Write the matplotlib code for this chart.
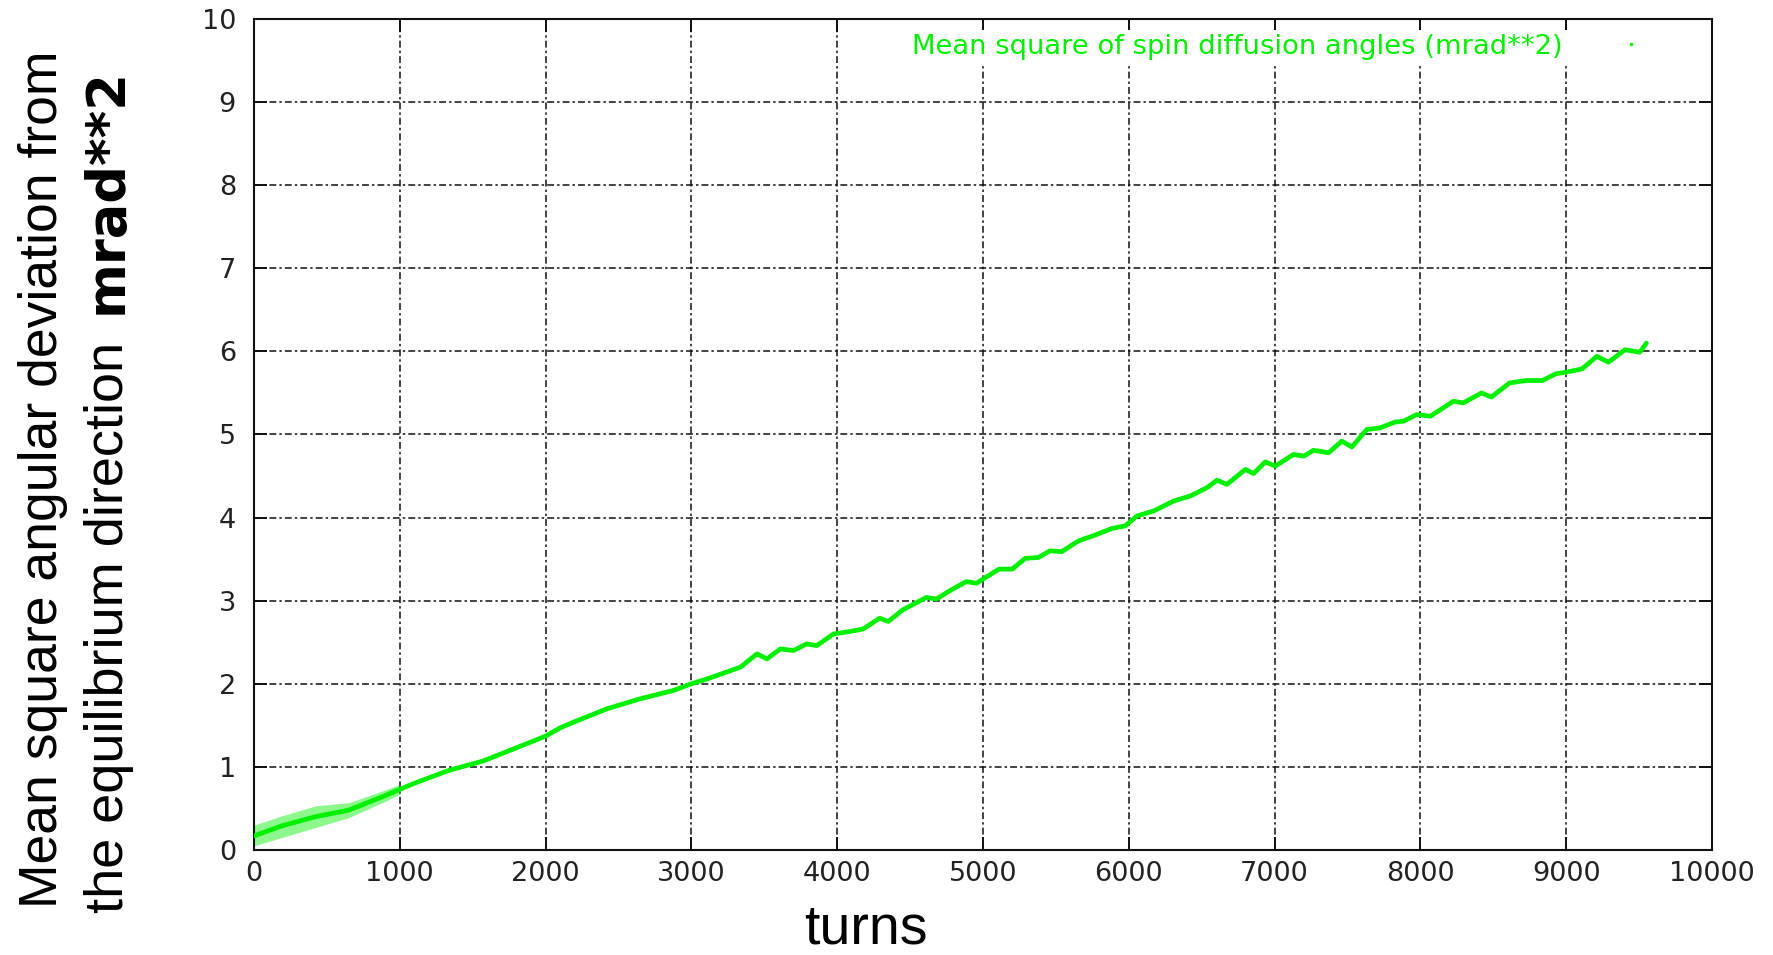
import matplotlib
matplotlib.use("Agg")
import matplotlib.pyplot as plt
from matplotlib.lines import Line2D

# ---- data ----
turns = [0, 190, 420, 650, 880, 1000, 1110, 1340, 1570, 1800, 2000, 2100, 2194,
         2422, 2650, 2877, 3000, 3110, 3336, 3450, 3518, 3610, 3700, 3790, 3860,
         3975, 4090, 4178, 4292, 4350, 4450, 4612, 4680, 4772, 4886, 4955, 5000,
         5110, 5200, 5290, 5380, 5460, 5540, 5655, 5770, 5885, 5975, 6057, 6171,
         6308, 6422, 6536, 6605, 6673, 6800, 6856, 6936, 7005, 7130, 7200, 7267,
         7370, 7461, 7530, 7632, 7724, 7826, 7884, 7975, 8068, 8226, 8294, 8419,
         8486, 8611, 8724, 8837, 8928, 9000, 9109, 9210, 9290, 9403, 9505, 9550]
mean_sq = [0.17, 0.29, 0.40, 0.48, 0.64, 0.73, 0.81, 0.96, 1.07, 1.23, 1.37, 1.47, 1.54,
           1.70, 1.82, 1.92, 2.00, 2.06, 2.20, 2.36, 2.30, 2.42, 2.40, 2.48, 2.46,
           2.60, 2.63, 2.66, 2.79, 2.75, 2.89, 3.04, 3.02, 3.12, 3.23, 3.21, 3.26,
           3.38, 3.38, 3.51, 3.52, 3.60, 3.59, 3.72, 3.79, 3.87, 3.90, 4.02, 4.08,
           4.20, 4.26, 4.36, 4.45, 4.40, 4.58, 4.53, 4.67, 4.62, 4.76, 4.74, 4.81,
           4.78, 4.92, 4.85, 5.06, 5.08, 5.15, 5.16, 5.24, 5.22, 5.40, 5.38, 5.50,
           5.45, 5.62, 5.65, 5.65, 5.73, 5.75, 5.79, 5.94, 5.87, 6.02, 5.99, 6.10]

# early spread of the point cloud
band_turns = [0, 190, 420, 650, 880, 1000]
band_lo = [0.05, 0.15, 0.27, 0.39, 0.57, 0.67]
band_hi = [0.30, 0.41, 0.53, 0.57, 0.71, 0.79]

xticks = [0, 1000, 2000, 3000, 4000, 5000, 6000, 7000, 8000, 9000, 10000]
yticks = [0, 1, 2, 3, 4, 5, 6, 7, 8, 9, 10]

legend_label = "Mean square of spin diffusion angles (mrad**2)"
xlabel = "turns"
ylabel_line1 = "Mean square angular deviation from"
ylabel_line2 = "the equilibrium direction "
ylabel_bold = "mrad**2"

GREEN = "#00f000"
W, H = 1773, 955

fig = plt.figure(figsize=(W / 100, H / 100), dpi=100)
ax = fig.add_axes([254 / W, 105 / H, 1458 / W, 831 / H])

ax.fill_between(band_turns, band_lo, band_hi, color=GREEN, alpha=0.45, lw=0)
ax.plot(turns, mean_sq, color=GREEN, lw=3.4, solid_joinstyle="round",
        solid_capstyle="round", zorder=3)

ax.set_xlim(0, 10000)
ax.set_ylim(0, 10)
ax.set_xticks(xticks)
ax.set_yticks(yticks)
ax.set_xticklabels([str(v) for v in xticks], family="DejaVu Sans", fontsize=19.5, color="#222222")
ax.set_yticklabels([str(v) for v in yticks], family="DejaVu Sans", fontsize=19.5, color="#222222")

ax.tick_params(direction="in", length=9.5, width=1.4, top=True, right=True,
               color="#111111")
ax.tick_params(axis="x", pad=8)
ax.tick_params(axis="y", pad=13)

for s in ax.spines.values():
    s.set_linewidth(1.5)
    s.set_color("#111111")

ax.grid(True, color="#111111", lw=1.1, linestyle=(0, (4.5, 2, 1.6, 2)))
ax.set_axisbelow(True)

handle = Line2D([0], [0], color=GREEN, marker=".", ms=3, ls="none")
leg = ax.legend([handle], [legend_label], loc="upper right",
                bbox_to_anchor=(0.966, 0.987), markerfirst=False, frameon=True,
                fancybox=False, framealpha=1, facecolor="white", edgecolor="none",
                handlelength=2, handletextpad=1.5, borderpad=0.15, borderaxespad=0,
                prop={"family": "DejaVu Sans", "size": 19.7}, labelcolor=GREEN)
leg.set_zorder(5)

# axis labels
fig.text(866 / W, 12 / H, xlabel, ha="center", va="baseline",
         family="Liberation Sans", fontsize=40)
fig.text(18 / W, 47 / H, ylabel_line1, rotation=90, ha="left", va="bottom",
         family="Liberation Sans", fontsize=38.5)
t2 = fig.text(84 / W, 42 / H, ylabel_line2, rotation=90, ha="left", va="bottom",
              family="Liberation Sans", fontsize=39)
ax.annotate(ylabel_bold, xy=(0.5, 1.0), xycoords=t2, xytext=(-2, 9),
            textcoords="offset points", rotation=90,
            ha="center", va="bottom", family="DejaVu Sans", fontweight="bold",
            fontsize=38, annotation_clip=False)

fig.savefig("out.png", dpi=100)
